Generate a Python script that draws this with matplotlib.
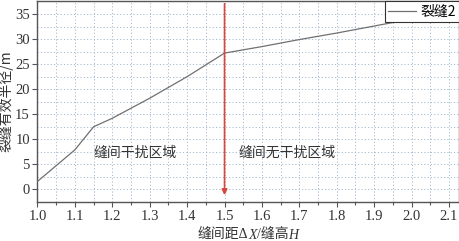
import matplotlib
matplotlib.use("Agg")
import matplotlib.pyplot as plt
from matplotlib.ticker import MultipleLocator
from matplotlib.offsetbox import TextArea, HPacker, AnchoredOffsetbox

# data
spacing = [1.0, 1.1, 1.15, 1.2, 1.3, 1.4, 1.5, 1.6, 1.7, 1.8, 1.9, 2.0]
radius = [1.6, 7.9, 12.5, 14.2, 18.2, 22.5, 27.2, 28.5, 29.9, 31.2, 32.6, 34.0]
series_name = "裂缝2"
boundary_x = 1.5
zone_left = "缝间干扰区域"
zone_right = "缝间无干扰区域"

plt.rcParams['font.family'] = ['Liberation Serif', 'Noto Sans CJK SC', 'DejaVu Sans']
plt.rcParams['font.size'] = 10

fig = plt.figure(figsize=(4.6, 2.41), dpi=100)
ax = fig.add_axes([0.0815, 0.162, 0.9165, 0.834])

frame_col = "#555555"
grid_col = "#a3bbd3"

ax.plot(spacing, radius, color="#707070", lw=0.9, label=series_name, zorder=3)

ax.set_xlim(1.0, 2.127)
ax.set_ylim(-2.5, 37.6)
ax.xaxis.set_major_locator(MultipleLocator(0.1))
ax.xaxis.set_minor_locator(MultipleLocator(0.05))
ax.yaxis.set_major_locator(MultipleLocator(5))
ax.yaxis.set_minor_locator(MultipleLocator(2.5))
ax.xaxis.set_major_formatter(matplotlib.ticker.FormatStrFormatter('%.1f'))

ax.grid(True, which='both', linestyle=(0, (1.2, 2.2)), color=grid_col, lw=0.7)
ax.tick_params(axis='both', which='major', direction='out', length=3.5, width=0.8,
               color=frame_col, labelsize=10.5, labelcolor="#333333", pad=2)
ax.tick_params(axis='x', which='minor', direction='out', length=2.5, width=0.8, color=frame_col)
ax.tick_params(axis='y', which='minor', length=0)
for s in ax.spines.values():
    s.set_color(frame_col)
    s.set_linewidth(1.0)

# boundary arrow
ax.annotate('', xy=(boundary_x, -1.7), xytext=(boundary_x, 37.6),
            arrowprops=dict(arrowstyle='-|>', color='#d6473d', lw=1.2, mutation_scale=8),
            zorder=4)

ax.text(1.26, 7.3, zone_left, ha='center', va='center', fontsize=10,
        family=['Noto Sans CJK SC'], color="#333333")
ax.text(1.666, 7.3, zone_right, ha='center', va='center', fontsize=10,
        family=['Noto Sans CJK SC'], color="#333333")

ax.set_ylabel("裂缝有效半径/m", fontsize=10, color="#333333", labelpad=1,
              family=['Noto Sans CJK SC', 'Liberation Serif'])

# x label with italic variables
parts = [("缝间距Δ", 'normal'), ("X", 'italic'), ("/缝高", 'normal'), ("H", 'italic')]
boxes = [TextArea(t, textprops=dict(fontsize=10, color="#333333", style=st,
                                     family=['Liberation Serif', 'Noto Sans CJK SC']))
         for t, st in parts]
pack = HPacker(children=boxes, sep=0, pad=0, align='baseline')
lab = AnchoredOffsetbox(loc='upper center', child=pack, pad=0, frameon=False,
                        bbox_to_anchor=(0.5, -0.135), bbox_transform=ax.transAxes,
                        borderpad=0)
ax.add_artist(lab)

leg = ax.legend(loc='upper right', borderaxespad=0, fancybox=False, frameon=True,
                edgecolor="#333333", handlelength=2.0, handletextpad=0.3,
                borderpad=0.25, framealpha=1,
                prop=dict(family=['Noto Sans CJK SC', 'Liberation Serif'], size=10))
leg.get_frame().set_linewidth(0.8)

fig.savefig("out.png", dpi=100)
